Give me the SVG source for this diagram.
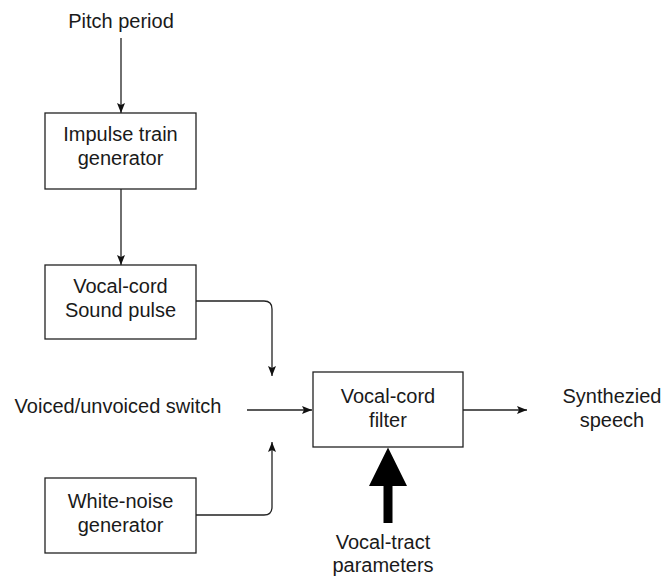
<svg xmlns="http://www.w3.org/2000/svg" width="664" height="576" viewBox="0 0 664 576">
<style>
text{font-family:"Liberation Sans",Arial,sans-serif;font-size:20px;fill:#1a1a1a;text-anchor:middle}
.box{fill:#fff;stroke:#222;stroke-width:1.3}
.c{fill:none;stroke:#222;stroke-width:1.3;marker-end:url(#ah)}
</style>
<defs>
<marker id="ah" viewBox="0 0 10 10" refX="10" refY="5" markerWidth="10" markerHeight="10" markerUnits="userSpaceOnUse" orient="auto">
<path d="M0,1 L10,5 L0,9 L2,5 Z" fill="#111"/>
</marker>
</defs>
<rect width="664" height="576" fill="#fff"/>
<text x="121" y="28">Pitch period</text>
<text x="118" y="413">Voiced/unvoiced switch</text>
<text x="612" y="403">Synthezied</text>
<text x="612" y="427">speech</text>
<text x="383" y="549">Vocal-tract</text>
<text x="383" y="572">parameters</text>
<g id="connectors">
<path class="c" d="M121,38 L121,113"/>
<path class="c" d="M121,189 L121,265"/>
<path class="c" d="M196,301 L264,301 Q272,301 272,309 L272,376"/>
<path class="c" d="M196,515 L264,515 Q272,515 272,507 L272,442"/>
<path class="c" d="M247,410 L312,410"/>
<path class="c" d="M463,410 L527,410"/>
<polygon points="383.5,523 392.5,523 392.5,486 407,486 388,447.5 369,486 383.5,486" fill="#000"/>
</g>
<g id="impulse">
<rect class="box" x="45" y="113" width="151" height="76"/>
<text x="120.5" y="141">Impulse train</text>
<text x="120.5" y="165">generator</text>
</g>
<g id="vocalcord">
<rect class="box" x="45" y="265" width="151" height="74"/>
<text x="120.5" y="293">Vocal-cord</text>
<text x="120.5" y="317">Sound pulse</text>
</g>
<g id="whitenoise">
<rect class="box" x="45" y="478" width="151" height="75"/>
<text x="120.5" y="508">White-noise</text>
<text x="120.5" y="532">generator</text>
</g>
<g id="filter">
<rect class="box" x="313" y="372" width="150" height="75"/>
<text x="388" y="403">Vocal-cord</text>
<text x="388" y="427">filter</text>
</g>
</svg>
